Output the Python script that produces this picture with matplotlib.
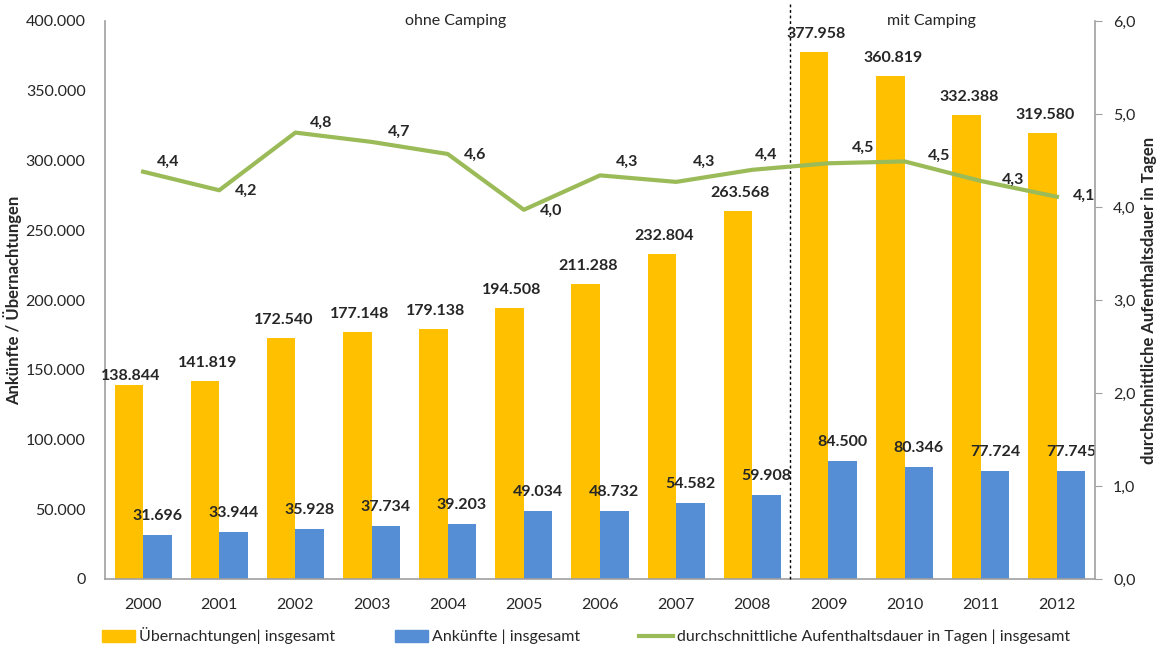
import matplotlib
matplotlib.use("Agg")
import matplotlib.pyplot as plt
from matplotlib.lines import Line2D
from matplotlib.patches import Patch
import numpy as np

years = ["2000", "2001", "2002", "2003", "2004", "2005", "2006",
         "2007", "2008", "2009", "2010", "2011", "2012"]
uebernachtungen = [138844, 141819, 172540, 177148, 179138, 194508, 211288,
                   232804, 263568, 377958, 360819, 332388, 319580]
ankuenfte = [31696, 33944, 35928, 37734, 39203, 49034, 48732,
             54582, 59908, 84500, 80346, 77724, 77745]
dauer = [4.38, 4.18, 4.80, 4.70, 4.57, 3.97, 4.34, 4.27, 4.40, 4.47, 4.49, 4.28, 4.11]

left_ticks = [0, 50000, 100000, 150000, 200000, 250000, 300000, 350000, 400000]
right_ticks = [0, 1, 2, 3, 4, 5, 6]

YELLOW = "#FFC000"
BLUE = "#558ED5"
GREEN = "#9BBB59"
TXT = "#262626"
FONT = ["Lato", "DejaVu Sans"]

plt.rcParams["font.family"] = FONT

def de_int(v):
    return f"{int(v):,}".replace(",", ".")

def de_dec(v):
    return f"{v:.1f}".replace(".", ",")

fig = plt.figure(figsize=(11.59, 6.51), dpi=100)
ax = fig.add_axes([105 / 1159, 1 - 579 / 651, (1095 - 105) / 1159, (579 - 21) / 651])
ax2 = ax.twinx()

x = np.arange(len(years))
w = 0.375
ax.bar(x - w / 2, uebernachtungen, width=w, color=YELLOW, zorder=2)
ax.bar(x + w / 2, ankuenfte, width=w, color=BLUE, zorder=2)

ax.set_xlim(-0.5, len(years) - 0.5)
ax.set_ylim(0, 400000)
ax.set_yticks(left_ticks)
ax.set_yticklabels([de_int(t) for t in left_ticks], fontsize=11.5, color=TXT)
ax.set_xticks(x)
ax.set_xticklabels(years, fontsize=11.5, color=TXT)
ax.tick_params(axis="y", length=0, pad=14)
ax.tick_params(axis="x", length=0, pad=14)
for s in ["top", "right"]:
    ax.spines[s].set_visible(False)
for s in ["left", "bottom"]:
    ax.spines[s].set_color("#A0A0A0")
    ax.spines[s].set_linewidth(1.2)

ax.set_ylabel("Ankünfte / Übernachtungen", fontsize=12, fontweight="bold", color=TXT)
ax.yaxis.set_label_coords(-0.084, 0.5)

# bar value labels
yl_off = [9] + [18] * (len(years) - 1)
for i, v in enumerate(uebernachtungen):
    ax.annotate(de_int(v), (x[i] - w / 2 + 0.03, v), xytext=(0, yl_off[i] * 0.72),
                textcoords="offset points", ha="center", va="center",
                fontsize=11.5, fontweight="bold", color=TXT, zorder=5)
for i, v in enumerate(ankuenfte):
    ax.annotate(de_int(v), (x[i] + w / 2, v), xytext=(0, 19 * 0.72),
                textcoords="offset points", ha="center", va="center",
                fontsize=11.5, fontweight="bold", color=TXT, zorder=5)

# line on secondary axis
ax2.plot(x, dauer, color=GREEN, linewidth=3, zorder=3)
ax2.set_ylim(0, 6)
ax2.set_yticks(right_ticks)
ax2.set_yticklabels([de_dec(t) for t in right_ticks], fontsize=11.5, color=TXT)
ax2.tick_params(axis="y", length=5, direction="out", color="#A0A0A0", pad=8)
for s in ["top", "left", "bottom"]:
    ax2.spines[s].set_visible(False)
ax2.spines["right"].set_color("#A0A0A0")
ax2.spines["right"].set_linewidth(1.2)
ax2.set_ylabel("durchschnittliche Aufenthaltsdauer in Tagen", fontsize=12,
               fontweight="bold", color=TXT)
ax2.yaxis.set_label_coords(1.046, 0.5)

line_off = [(25, -10), (27, 1), (26, -10), (28, -10), (27, 1), (27, 1), (27, -14),
            (28, -20), (14, -15), (35, -15), (34, -6), (32, -1), (27, -1)]
for i, v in enumerate(dauer):
    dx, dy = line_off[i]
    ax2.annotate(de_dec(v), (x[i], v), xytext=(dx * 0.72, -dy * 0.72),
                 textcoords="offset points", ha="center", va="center",
                 fontsize=11.5, fontweight="bold", color=TXT, zorder=5)

# separator between 2008 and 2009
ax.axvline(8.5, ymin=0, ymax=1.03, color="black", linestyle=(0, (2, 2)),
           linewidth=1, clip_on=False, zorder=4)
ax.text(4.1, 1.0, "ohne Camping", transform=ax.get_xaxis_transform(),
        ha="center", va="center", fontsize=11.5, color=TXT)
ax.text(10.35, 1.0, "mit Camping", transform=ax.get_xaxis_transform(),
        ha="center", va="center", fontsize=11.5, color=TXT)

handles = [Patch(color=YELLOW, label="Übernachtungen| insgesamt"),
           Patch(color=BLUE, label="Ankünfte | insgesamt"),
           Line2D([0], [0], color=GREEN, linewidth=3,
                  label="durchschnittliche Aufenthaltsdauer in Tagen | insgesamt")]
fig.legend(handles=handles, loc="center", bbox_to_anchor=(586 / 1159, 1 - 636 / 651),
           ncol=3, frameon=False, fontsize=11.5, handlelength=2.1, handleheight=0.8,
           handletextpad=0.25, columnspacing=3.7, labelcolor=TXT)

fig.savefig("out.png", dpi=100)
